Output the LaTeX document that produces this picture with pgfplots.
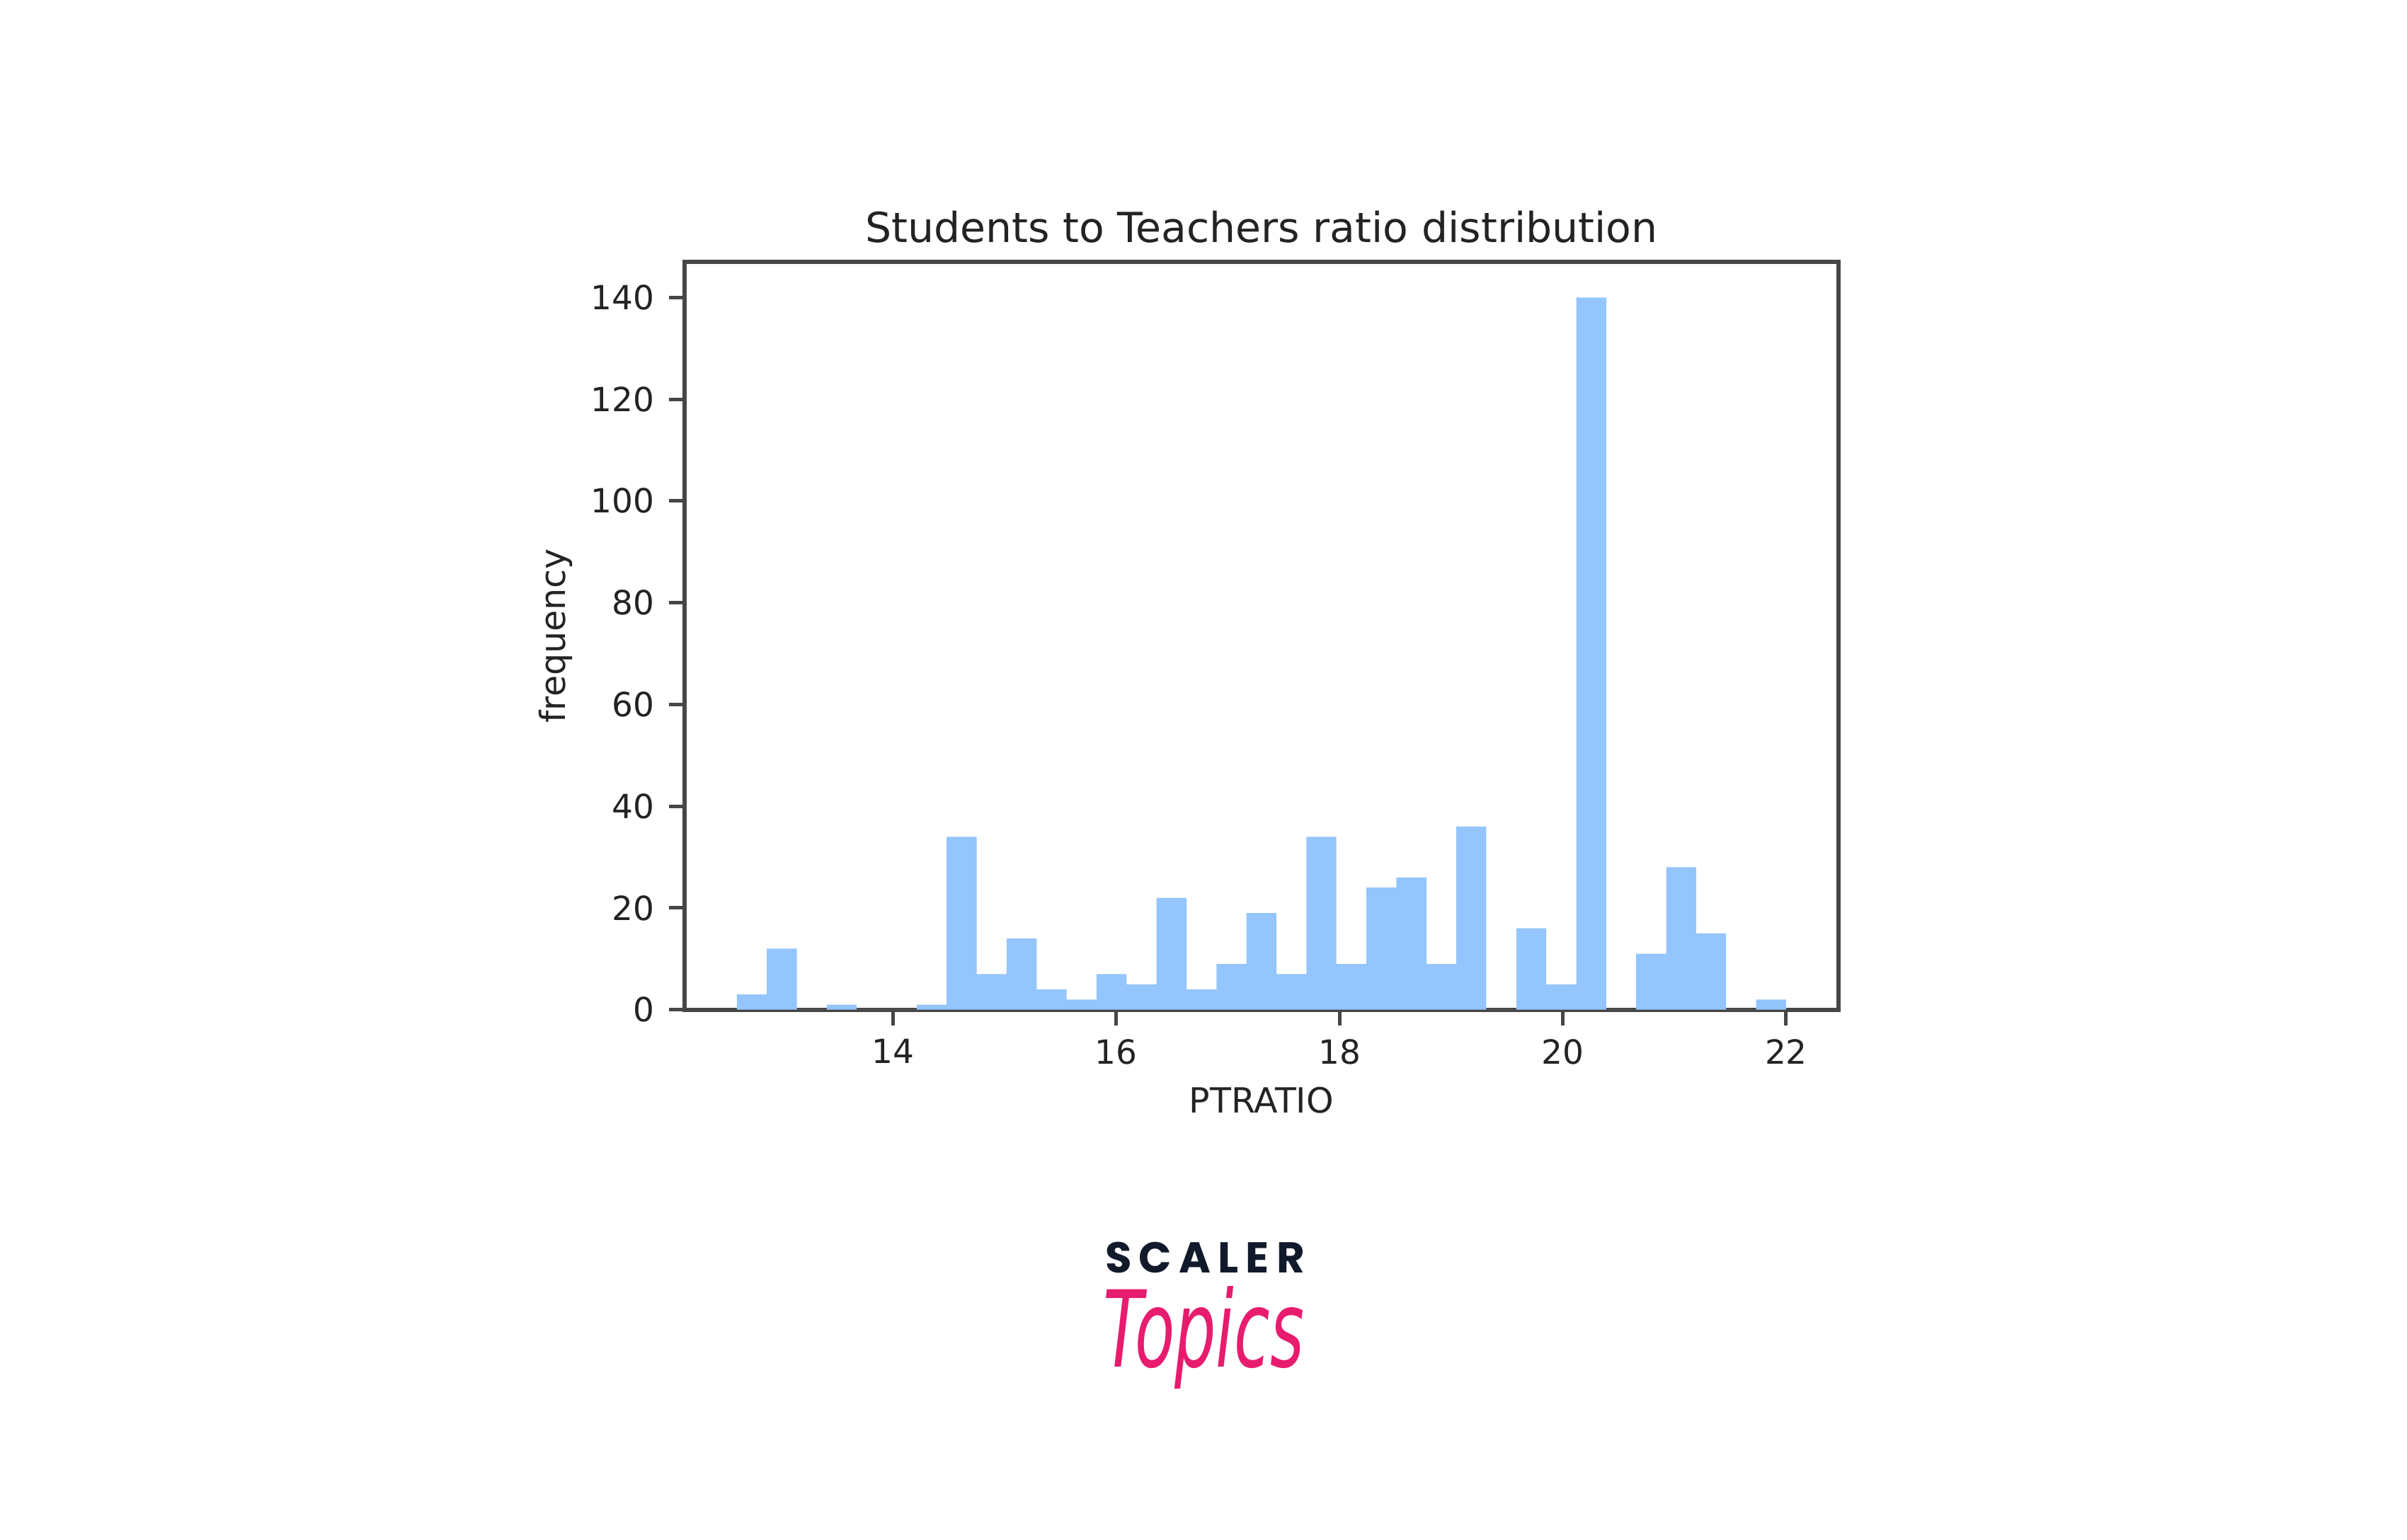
\documentclass[border=0pt]{standalone}
\usepackage{fontspec}
\setmainfont{DejaVu Sans}
\newfontfamily\logofont{Poppins}
\usepackage{pgfplots}
\usepackage{pgfplotstable}
\pgfplotsset{compat=1.18}
\definecolor{barblue}{RGB}{148,197,253}
\definecolor{spine}{RGB}{70,70,70}
\definecolor{txt}{RGB}{35,35,35}
\definecolor{navy}{RGB}{17,26,43}
\definecolor{pink}{RGB}{232,28,110}
\pgfplotstableread{
x y
12.600000 3
12.868571 12
13.137143 0
13.405714 1
13.674286 0
13.942857 0
14.211429 1
14.480000 34
14.748571 7
15.017143 14
15.285714 4
15.554286 2
15.822857 7
16.091429 5
16.360000 22
16.628571 4
16.897143 9
17.165714 19
17.434286 7
17.702857 34
17.971429 9
18.240000 24
18.508571 26
18.777143 9
19.045714 36
19.314286 0
19.582857 16
19.851429 5
20.120000 140
20.388571 0
20.657143 11
20.925714 28
21.194286 15
21.462857 0
21.731429 2
22.000000 0
}\histdata
\begin{document}
\begin{tikzpicture}
\path[use as bounding box] (0,0) rectangle (340pt,217.5pt);
\begin{axis}[
  at={(96.67pt,74.83pt)}, anchor=south west,
  scale only axis, width=163.03pt, height=105.67pt,
  xmin=12.13, xmax=22.47, ymin=0, ymax=147,
  xtick={14,16,18,20,22}, ytick={0,20,...,140},
  tick align=outside, major tick length=2.2pt,
  xtick pos=bottom, ytick pos=left,
  axis line style={spine, line width=0.6pt},
  every tick/.style={spine, line width=0.5pt},
  /pgf/number format/assume math mode=true,
  ticklabel style={font=\fontsize{4.7}{5}\selectfont, text=txt},
  xticklabel style={anchor=north, inner sep=0pt, yshift=-1.8pt},
  yticklabel style={anchor=east, inner sep=0pt, xshift=-1.8pt},
  every axis title shift=0pt,
  title={Students to Teachers ratio distribution},
  title style={font=\fontsize{5.85}{6.5}\selectfont, text=txt, at={(axis description cs:0.5,1)}, anchor=center, yshift=4.9pt},
  xlabel={PTRATIO},
  xlabel style={font=\fontsize{4.9}{6}\selectfont, text=txt, at={(axis description cs:0.5,0)}, anchor=center, yshift=-12.8pt},
  ylabel={frequency},
  ylabel style={font=\fontsize{4.9}{6}\selectfont, text=txt, at={(axis description cs:0,0.5)}, anchor=center, yshift=18.2pt},
]
\addplot[ybar interval, fill=barblue, draw=none] table[x=x, y=y] {\histdata};
\end{axis}
\node[anchor=center, text=navy, font=\logofont\bfseries\fontsize{6.1}{7}\selectfont] at (170.2pt, 39.8pt) {S\,C\,A\,L\,E\,R};
\node[anchor=center, text=pink, xscale=0.92, yscale=1.5, font=\itshape\fontsize{10}{12}\selectfont] at (170pt, 28.5pt) {Topics};
\end{tikzpicture}
\end{document}
